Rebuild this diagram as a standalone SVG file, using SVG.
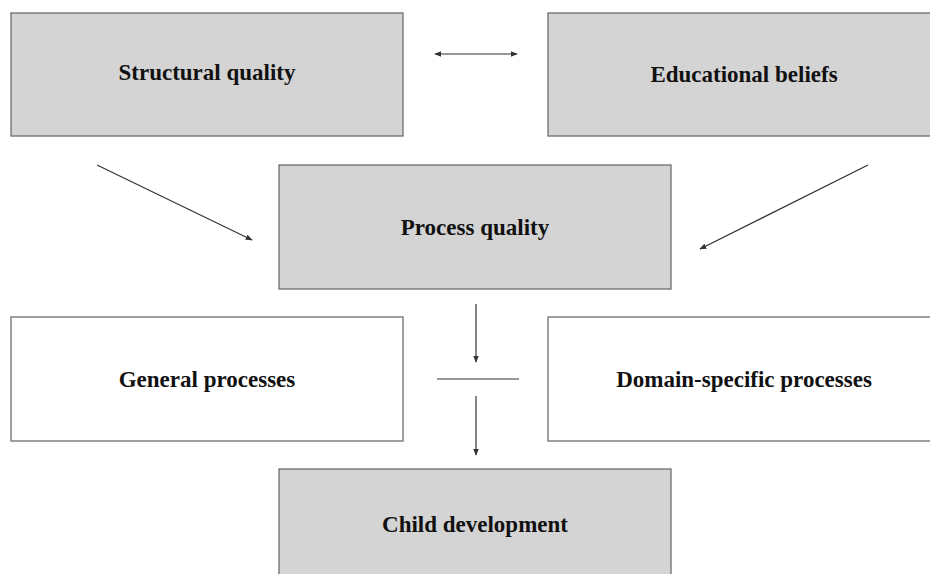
<svg xmlns="http://www.w3.org/2000/svg" width="930" height="574" viewBox="0 0 930 574">
  <style>
    .box { stroke: #6e6e6e; stroke-width: 1.3; }
    .grey { fill: #d4d4d4; }
    .white { fill: #ffffff; }
    .label { font-family: "Liberation Serif", "Times New Roman", serif; font-weight: bold; font-size: 23px; fill: #111; text-anchor: middle; }
    .link { stroke: #333; stroke-width: 1.2; fill: none; }
  </style>
  <defs>
    <marker id="head" viewBox="0 0 10 10" refX="9" refY="5" markerWidth="7" markerHeight="7" markerUnits="userSpaceOnUse" orient="auto-start-reverse">
      <path d="M0,1 L10,5 L0,9 Z" fill="#333"/>
    </marker>
  </defs>
  <rect width="930" height="574" fill="#ffffff"/>

  <g id="structural-quality">
    <rect class="box grey" x="11" y="13" width="392" height="123"/>
    <text class="label" x="207" y="80">Structural quality</text>
  </g>
  <g id="educational-beliefs">
    <rect class="box grey" x="548" y="13" width="384" height="123"/>
    <text class="label" x="744" y="82">Educational beliefs</text>
  </g>
  <g id="process-quality">
    <rect class="box grey" x="279" y="165" width="392" height="124"/>
    <text class="label" x="475" y="235">Process quality</text>
  </g>
  <g id="general-processes">
    <rect class="box white" x="11" y="317" width="392" height="124"/>
    <text class="label" x="207" y="387">General processes</text>
  </g>
  <g id="domain-specific-processes">
    <rect class="box white" x="548" y="317" width="384" height="124"/>
    <text class="label" x="744" y="387">Domain-specific processes</text>
  </g>
  <g id="child-development">
    <rect class="box grey" x="279" y="469" width="392" height="110"/>
    <text class="label" x="475" y="532">Child development</text>
  </g>

  <g id="connectors">
    <line class="link" x1="435" y1="54" x2="517" y2="54" marker-start="url(#head)" marker-end="url(#head)"/>
    <line class="link" x1="97" y1="165" x2="252" y2="240" marker-end="url(#head)"/>
    <line class="link" x1="868" y1="165" x2="700" y2="249" marker-end="url(#head)"/>
    <line class="link" x1="476" y1="304" x2="476" y2="362" marker-end="url(#head)"/>
    <line class="link" x1="437" y1="379" x2="519" y2="379" stroke="#6e6e6e"/>
    <line class="link" x1="476" y1="396" x2="476" y2="455" marker-end="url(#head)"/>
  </g>
</svg>
